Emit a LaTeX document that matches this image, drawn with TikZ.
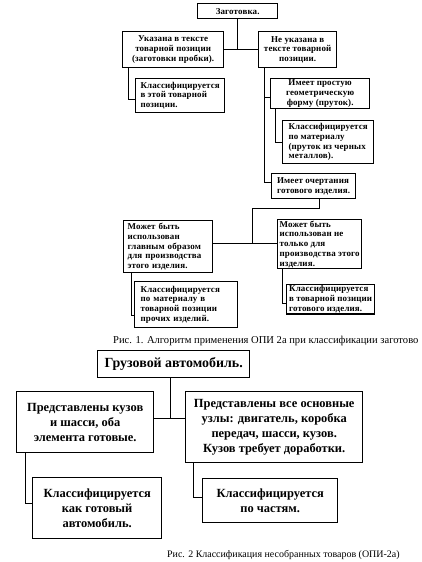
\documentclass[tikz,border=0pt]{standalone}
\usepackage{fontspec}
\setmainfont{Liberation Serif}
\newfontfamily\figonefont[LetterSpace=1.5]{Liberation Serif}
\begin{document}
\begin{tikzpicture}[x=1bp,y=-1bp,
  bx/.style={draw, line width=1.3pt, inner xsep=2bp, inner ysep=1bp, anchor=north west,
    font=\figonefont\bfseries\fontsize{9}{9.8}\selectfont},
  bb/.style={draw, line width=1.4pt, inner xsep=4bp, inner ysep=1bp, anchor=north west,
    align=center, font=\bfseries\fontsize{12.5}{15}\selectfont},
  ln/.style={line width=1pt},
  captxt/.style={font=\fontsize{10.6}{12}\selectfont, inner sep=0pt, anchor=base west}]
\useasboundingbox (0,0) rectangle (421,562);
% ---------- Figure 1 ----------
\node[bx, align=center, minimum width=80bp, minimum height=15bp] (z) at (197,3) {Заготовка.};
\node[bx, align=center, minimum width=101bp, minimum height=36bp] (a) at (122,31)
  {Указана в тексте\\товарной позиции\\(заготовки пробки).};
\node[bx, align=center, minimum width=78bp, minimum height=36bp] (b) at (258,31)
  {Не указана в\\тексте товарной\\позиции.};
\node[bx, align=left, minimum width=89bp, minimum height=34bp] (a1) at (135,78)
  {Классифицируется\\в этой товарной\\позиции.};
\node[bx, align=center, minimum width=99bp, minimum height=30bp] (b1) at (270,78)
  {Имеет простую\\геометрическую\\форму (пруток).};
\node[bx, align=left, minimum width=91bp, minimum height=43bp] (b2) at (282,120)
  {Классифицируется\\по материалу\\(пруток из черных\\металлов).};
\node[bx, align=left, minimum width=84bp, minimum height=25bp] (b3) at (271,173)
  {Имеет очертания\\готового изделия.};
\node[bx, align=left, inner xsep=4bp, text width=81bp, minimum height=52bp] (c) at (123,220)
  {Может быть\\использован\\главным образом\\для производства\\этого изделия.};
\node[bx, align=left, minimum width=84bp, minimum height=46bp] (d) at (277,219)
  {Может быть\\использован не\\только для\\производства этого\\изделия.};
\node[bx, align=left, inner xsep=6bp, text width=91bp, minimum height=46bp] (c1) at (134,281)
  {Классифицируется\\по материалу в\\товарной позиции\\прочих изделий.};
\node[bx, align=left, minimum width=88bp, minimum height=29bp] (d1) at (286,284)
  {Классифицируется\\в товарной позиции\\готового изделия.};
% connectors fig 1
\coordinate (ja) at (128,0);
\coordinate (jb) at (264,0);
\draw[ln] (z.south) -- (z.south |- a.east);
\draw[ln] (a.east) -- (b.west);
\draw[ln] (a.south -| ja) |- (a1.west |- 0,100);
\draw[ln] (b.south -| jb) |- (b3.west |- 0,182);
\draw[ln] (jb |- 0,98) -- (b1.west |- 0,98);
\draw[ln] (b1.south -| 275,0) |- (b2.west |- 0,142);
\draw[ln] (b3.south -| 319,0) |- (252,208) -- (252,243);
\draw[ln] (c.east |- 0,243) -- (d.west |- 0,243);
\draw[ln] (c.south -| 131,0) |- (c1.west |- 0,315);
\draw[ln] (d.south -| 282,0) |- (d1.west |- 0,303);
\node[captxt] (cap1) at (113,343) {Рис. 1. Алгоритм применения ОПИ 2а при классификации заготово};
% ---------- Figure 2 ----------
\node[bb, minimum width=152bp, minimum height=27bp, font=\bfseries\fontsize{14}{16}\selectfont] (g) at (97,350) {Грузовой автомобиль.};
\node[bb, minimum width=137bp, minimum height=61bp] (L) at (16,391)
  {Представлены кузов\\и шасси, оба\\элемента готовые.};
\node[bb, minimum width=177bp, minimum height=71bp] (R) at (185,391)
  {Представлены все основные\\узлы: двигатель, коробка\\передач, шасси, кузов.\\Кузов требует доработки.};
\node[bb, minimum width=129bp, minimum height=61bp] (L1) at (32,477)
  {Классифицируется\\как готовый\\автомобиль.};
\node[bb, minimum width=135bp, minimum height=44bp] (R1) at (202,478)
  {Классифицируется\\по частям.};
\draw[ln] (g.south -| 170,0) -- (170,418);
\draw[ln] (L.east |- 0,418) -- (R.west |- 0,418);
\draw[ln] (L.south -| 25,0) |- (L1.west |- 0,503);
\draw[ln] (R.south -| 193,0) |- (R1.west |- 0,497);
\node[captxt, font=\fontsize{10}{12}\selectfont] (cap2) at (167,557) {Рис. 2 Классификация несобранных товаров (ОПИ-2а)};
\end{tikzpicture}
\end{document}
